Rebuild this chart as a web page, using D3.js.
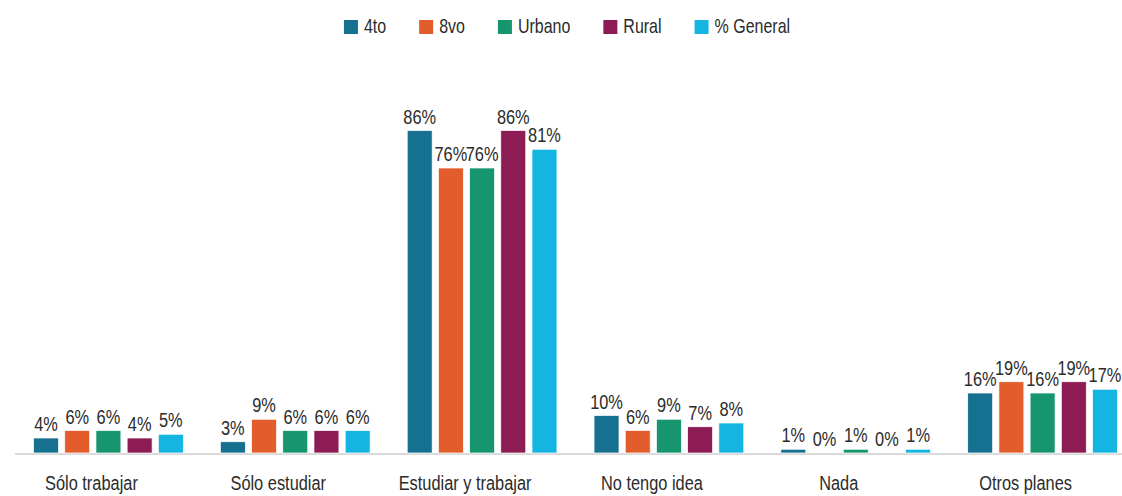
<!DOCTYPE html>
<html>
<head>
<meta charset="utf-8">
<script src="https://cdn.jsdelivr.net/npm/d3@7"></script>
<style>
  html, body { margin: 0; padding: 0; background: #fff; }
  svg { display: block; font-family: "Liberation Sans", Arimo, Arial, sans-serif; }
  text { fill: #2b2b2b; }
</style>
</head>
<body>
<svg id="chart" width="1122" height="496"></svg>
<script>
// Categories (x axis)
const categories = ["Sólo trabajar", "Sólo estudiar", "Estudiar y trabajar", "No tengo idea", "Nada", "Otros planes"];
// Series names (legend)
const seriesNames = ["4to", "8vo", "Urbano", "Rural", "% General"];
const seriesColors = ["#16708f", "#e35c2c", "#16956f", "#8d1c55", "#15b5e2"];
// Percentages per series, one value per category
const values4to     = [4, 3, 86, 10, 1, 16];
const values8vo     = [6, 9, 76, 6, 0, 19];
const valuesUrbano  = [6, 6, 76, 9, 1, 16];
const valuesRural   = [4, 6, 86, 7, 0, 19];
const valuesGeneral = [5, 6, 81, 8, 1, 17];

const seriesValues = [values4to, values8vo, valuesUrbano, valuesRural, valuesGeneral];

const svg = d3.select("#chart");
const W = 1122;
const baseY = 453;
const NARROW = 0.78;   // horizontal squeeze for a condensed look
const FS = 21;

const x0 = d3.scaleBand().domain(categories).range([15, 1136]).padding(0);
const groupW = 156;
const x1 = d3.scaleBand().domain(seriesNames).range([0, groupW]).paddingInner(0.2).paddingOuter(0.1);
const y = d3.scaleLinear().domain([0, 100]).range([baseY, baseY - 375]);
const color = d3.scaleOrdinal().domain(seriesNames).range(seriesColors);

const rows = [];
categories.forEach((c, ci) => {
  seriesNames.forEach((s, si) => {
    rows.push({ cat: c, series: s, value: seriesValues[si][ci] });
  });
});

const groupX = c => x0(c) + (x0.bandwidth() - groupW) / 2;
const narrow = (x, yy) => `translate(${x},${yy}) scale(${NARROW},1)`;

// Baseline
svg.append("line")
  .attr("x1", 15).attr("x2", W)
  .attr("y1", baseY + 1).attr("y2", baseY + 1)
  .attr("stroke", "#d9d9d9").attr("stroke-width", 2);

// Bars
svg.append("g").selectAll("rect").data(rows.filter(d => d.value > 0)).join("rect")
  .attr("x", d => groupX(d.cat) + x1(d.series))
  .attr("y", d => y(d.value))
  .attr("width", x1.bandwidth())
  .attr("height", d => baseY - y(d.value))
  .attr("fill", d => color(d.series))
  .attr("stroke", "#ffffff")
  .attr("stroke-width", 0.7);

// Value labels
svg.append("g").selectAll("text").data(rows).join("text")
  .attr("transform", d => narrow(groupX(d.cat) + x1(d.series) + x1.bandwidth() / 2, y(d.value) - 7))
  .attr("text-anchor", "middle")
  .attr("font-size", FS)
  .text(d => d.value + "%");

// Category labels
const xAxis = d3.axisBottom(x0).tickSize(0).tickPadding(0);
const axisG = svg.append("g").attr("transform", `translate(-17, ${baseY})`).call(xAxis);
axisG.select(".domain").remove();
axisG.attr("font-family", null).attr("font-size", null);
axisG.selectAll("text")
  .attr("y", null)
  .attr("dy", null)
  .attr("transform", narrow(0, 37))
  .attr("font-size", FS)
  .attr("fill", "#2b2b2b");

// Legend
const legend = svg.append("g");
const items = legend.selectAll("g").data(seriesNames).join("g");
items.append("rect")
  .attr("width", 14).attr("height", 14)
  .attr("y", 20)
  .attr("fill", d => color(d));
items.append("text")
  .attr("transform", narrow(20, 33))
  .attr("font-size", 20.5)
  .text(d => d);
const gap = 33;
const widths = [];
items.each(function() { widths.push(this.getBoundingClientRect().width); });
const total = d3.sum(widths) + gap * (widths.length - 1);
let cursor = 567 - total / 2;
items.attr("transform", (d, i) => {
  const t = `translate(${cursor},0)`;
  cursor += widths[i] + gap;
  return t;
});
</script>
</body>
</html>
